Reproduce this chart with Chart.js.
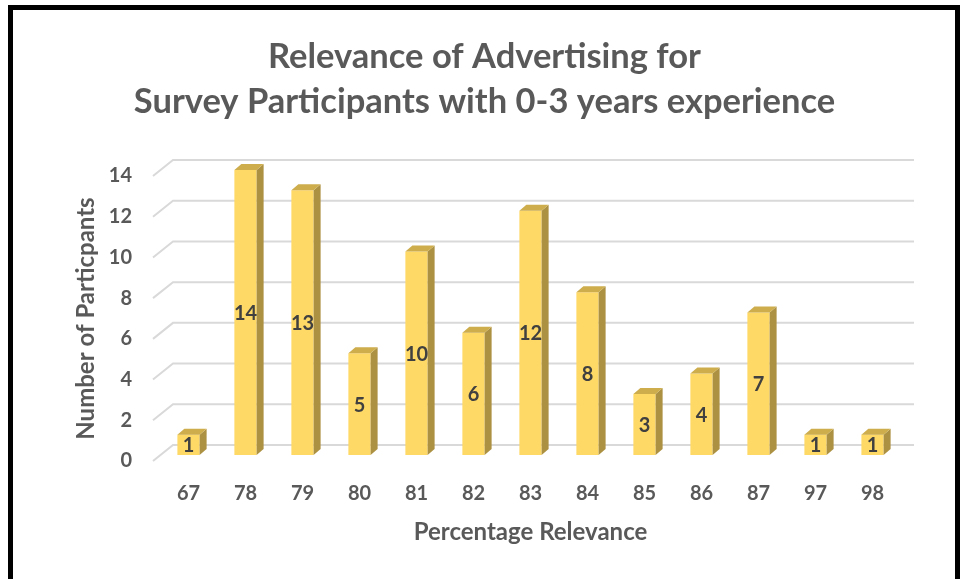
<!DOCTYPE html>
<html><head><meta charset="utf-8">
<script src="https://cdn.jsdelivr.net/npm/chart.js@4.4.1/dist/chart.umd.min.js"></script>
<style>
html,body{margin:0;padding:0;background:#fff;overflow:hidden;}
#wrap{position:relative;width:960px;height:579px;}
#frame{position:absolute;left:8px;top:5px;width:942px;height:600px;border-left:5px solid #000;border-top:5px solid #000;border-right:5px solid #000;pointer-events:none;}
</style></head><body>
<div id="wrap"><canvas id="c" width="960" height="579"></canvas><div id="frame"></div></div>
<script>
const categories = ['67','78','79','80','81','82','83','84','85','86','87','97','98'];
const participants = [1,14,13,5,10,6,12,8,3,4,7,1,1];
const yTicks = [0,2,4,6,8,10,12,14];
const titleLines = ['Relevance of Advertising for','Survey Participants with 0-3 years experience'];
const xTitle = 'Percentage Relevance';
const yTitle = 'Number of Particpants';

const FONT = 'Lato';
const DX = 7, DY = 6, SHIFT = -6;

const bar3d = {
  id: 'bar3d',
  beforeDatasetsDraw(chart) {
    const ctx = chart.ctx, a = chart.chartArea, ys = chart.scales.y;
    ctx.save();
    ctx.strokeStyle = '#D9D9D9';
    ctx.lineWidth = 2;
    yTicks.forEach(v => {
      const py = ys.getPixelForValue(v);
      ctx.beginPath();
      ctx.moveTo(a.left - 7, py);
      ctx.lineTo(a.left + 13, py - 16);
      ctx.lineTo(a.right + 13, py - 16);
      ctx.stroke();
    });
    ctx.restore();
    ctx.save();
    ctx.translate(0, SHIFT);
  },
  afterDatasetsDraw(chart) {
    const ctx = chart.ctx;
    const meta = chart.getDatasetMeta(0);
    meta.data.forEach(el => {
      const w = el.width, l = el.x - w / 2, r = el.x + w / 2, t = el.y, b = el.base;
      ctx.fillStyle = '#AD9142';
      ctx.beginPath();
      ctx.moveTo(r, t); ctx.lineTo(r + DX, t - DY); ctx.lineTo(r + DX, b - DY); ctx.lineTo(r, b);
      ctx.closePath(); ctx.fill();
      ctx.fillStyle = '#CDAD4C';
      ctx.beginPath();
      ctx.moveTo(l, t); ctx.lineTo(l + DX, t - DY); ctx.lineTo(r + DX, t - DY); ctx.lineTo(r, t);
      ctx.closePath(); ctx.fill();
    });
    ctx.restore();
    ctx.save();
    ctx.fillStyle = '#404040';
    ctx.font = 'bold 20px ' + FONT;
    ctx.textAlign = 'center';
    ctx.textBaseline = 'middle';
    meta.data.forEach((el, i) => {
      ctx.fillText(String(participants[i]), el.x, (el.y + el.base) / 2 + SHIFT + 1);
    });
    ctx.restore();
  }
};

new Chart(document.getElementById('c'), {
  type: 'bar',
  data: {
    labels: categories,
    datasets: [{
      data: participants,
      backgroundColor: '#FFD966',
      borderWidth: 0,
      categoryPercentage: 1,
      barPercentage: 0.39
    }]
  },
  options: {
    responsive: false,
    animation: false,
    events: [],
    layout: { padding: { left: 68, right: 59, top: 10, bottom: 24 } },
    plugins: {
      legend: { display: false },
      tooltip: { enabled: false },
      title: {
        display: true,
        text: titleLines,
        color: '#595959',
        font: { family: FONT, size: 34.5, weight: 'bold', lineHeight: 45 / 34.5 },
        padding: { top: 24, bottom: 52 }
      }
    },
    scales: {
      x: {
        afterFit(scale) { scale.height = 94; },
        grid: { display: false, drawTicks: false },
        border: { display: false },
        ticks: { color: '#595959', font: { family: FONT, size: 20, weight: 'bold' }, padding: 21, maxRotation: 0 },
        title: { display: true, text: xTitle, color: '#595959', font: { family: FONT, size: 24, weight: 'bold', lineHeight: 1.2 }, padding: { top: 10, bottom: 8 } }
      },
      y: {
        min: 0, max: 14,
        afterBuildTicks(scale) { scale.ticks = yTicks.map(v => ({ value: v })); },
        afterFit(scale) { scale.width = 92; },
        grid: { display: false, drawTicks: false },
        border: { display: false },
        ticks: { color: '#595959', font: { family: FONT, size: 20, weight: 'bold' }, padding: 28 },
        title: { display: true, text: yTitle, color: '#595959', font: { family: FONT, size: 24, weight: 'bold', lineHeight: 1.2 }, padding: { top: 4, bottom: 4 } }
      }
    }
  },
  plugins: [bar3d]
});
</script>
</body></html>
